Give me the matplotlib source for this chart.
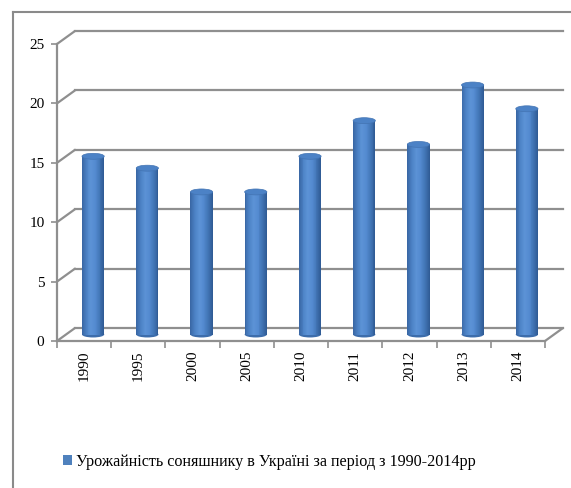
import matplotlib
matplotlib.use("Agg")
import matplotlib.pyplot as plt
import matplotlib.transforms as mtransforms
from matplotlib.patches import Ellipse
from matplotlib.lines import Line2D
from matplotlib.colors import LinearSegmentedColormap
import numpy as np

years = ["1990", "1995", "2000", "2005", "2010", "2011", "2012", "2013", "2014"]
values = [15, 14, 12, 12, 15, 18, 16, 21, 19]
yticks = [0, 5, 10, 15, 20, 25]
legend_label = "Урожайність соняшнику в Україні за період з 1990-2014рр"

plt.rcParams['font.family'] = ['Liberation Serif', 'DejaVu Serif']

W, H = 571, 488
fig = plt.figure(figsize=(W / 100, H / 100), dpi=100)
ax = fig.add_axes([57 / W, (H - 341) / H, 488 / W, 297 / H])
ax.set_xlim(-0.5, len(years) - 0.5)
ax.set_ylim(0, 25)

grid_c = '#8f8f8f'
back = ax.transData + mtransforms.ScaledTranslation(0.18, 0.13, fig.dpi_scale_trans)
mid = ax.transData + mtransforms.ScaledTranslation(0.09, 0.065, fig.dpi_scale_trans)

# back wall gridlines
for v in yticks:
    ax.plot([-0.5, len(years) - 0.5], [v, v], color=grid_c, lw=1.6,
            transform=back, clip_on=False, zorder=1)
    # left wall diagonals
    ax.annotate('', xy=(-0.5, v), xytext=(18, 13), textcoords='offset pixels',
                arrowprops=dict(arrowstyle='-', color=grid_c, lw=1.6,
                                shrinkA=0, shrinkB=0),
                annotation_clip=False, zorder=1)
# floor right edge
ax.annotate('', xy=(len(years) - 0.5, 0), xytext=(18, 13), textcoords='offset pixels',
            arrowprops=dict(arrowstyle='-', color=grid_c, lw=1.6, shrinkA=0, shrinkB=0),
            annotation_clip=False, zorder=1)

# cylinders
x = np.arange(len(years))
bw = 0.41
cmap = LinearSegmentedColormap.from_list(
    'cyl', ['#3a68a6', '#4d83c6', '#5c93d6', '#548ad0', '#4276b6', '#305c96'])
N = 24
eh = 0.5
for i, (xi, v) in enumerate(zip(x, values)):
    ax.add_patch(Ellipse((xi, 0), bw, eh, facecolor='#3d6dab', edgecolor='none',
                         transform=mid, clip_on=False, zorder=3))
for k in range(N):
    off = -bw / 2 + (k + 0.5) * bw / N
    ax.bar(x + off, values, width=bw / N * 1.05, color=cmap(k / (N - 1)),
           transform=mid, clip_on=False, zorder=4, linewidth=0)
for xi, v in zip(x, values):
    ax.add_patch(Ellipse((xi, v), bw, eh, facecolor='#4c82c6', edgecolor='#4374b3',
                         lw=0.5, transform=mid, clip_on=False, zorder=5))

# axes styling
for s in ['top', 'right']:
    ax.spines[s].set_visible(False)
for s in ['left', 'bottom']:
    ax.spines[s].set_color(grid_c)
    ax.spines[s].set_linewidth(1.6)
    ax.spines[s].set_zorder(2)
ax.set_yticks(yticks)
ax.set_yticklabels([str(t) for t in yticks], fontsize=11)
ax.tick_params(axis='y', length=4, width=1.2, color=grid_c, pad=5)
ax.set_xticks(x)
ax.set_xticklabels(years, rotation=90, fontsize=11)
ax.set_xticks(np.arange(-0.5, len(years)), minor=True)
ax.tick_params(axis='x', which='major', length=0, pad=7)
ax.tick_params(axis='x', which='minor', length=5, width=1.2, color=grid_c)
ax.patch.set_alpha(0)

# outer chart border
fig.add_artist(Line2D([13 / W, 13 / W], [0, 1 - 12 / H], color='#8a8a8a', lw=1.5))
fig.add_artist(Line2D([13 / W, 1], [1 - 12 / H, 1 - 12 / H], color='#8a8a8a', lw=1.5))

# legend
handle = plt.Rectangle((0, 0), 1, 1, facecolor='#4f81bd')
fig.legend([handle], [legend_label], loc='center',
           bbox_to_anchor=(269 / W, 1 - 462 / H), frameon=False,
           handlelength=0.6, handleheight=0.6, handletextpad=0.2,
           prop={'size': 11.6})

fig.savefig('out.png', dpi=100)
